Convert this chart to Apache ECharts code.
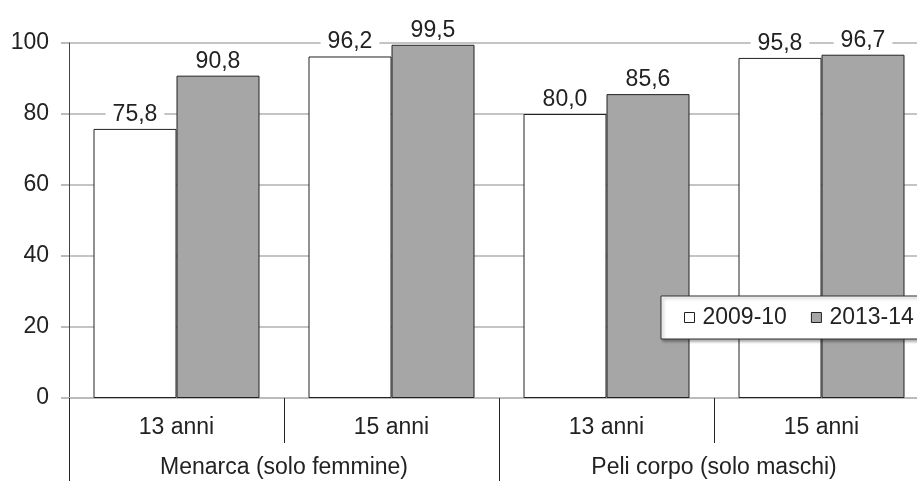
<!DOCTYPE html>
<html><head><meta charset="utf-8">
<script src="https://cdn.jsdelivr.net/npm/echarts@6/dist/echarts.min.js"></script>
<style>html,body{margin:0;padding:0;background:#fff}#c{width:917px;height:481px}</style>
</head><body><div id="c"></div>
<script>
var categories = ['13 anni','15 anni','13 anni','15 anni'];
var groups = ['Menarca (solo femmine)','Peli corpo (solo maschi)'];
var seriesNames = ['2009-10','2013-14'];
var values2009 = [75.8, 96.2, 80.0, 95.8];
var values2013 = [90.8, 99.5, 85.6, 96.7];
var yTicks = [0,20,40,60,80,100];

var chart = echarts.init(document.getElementById('c'));
var font = 'Liberation Sans, Arial, sans-serif';
var fs = 23;
function lbl(){
  return {show:true, position:'top', distance:3, color:'#222', fontSize:fs, fontFamily:font,
    backgroundColor:'#fff', padding:[3,7,0,7],
    formatter:function(p){return p.value.toFixed(1).replace('.',',');}};
}
chart.setOption({
  animation:false,
  grid:{left:69, top:43, width:860, height:355, outerBoundsMode:'none', containLabel:false},
  legend:{
    data:seriesNames, left:661, top:296, width:400, orient:'horizontal', padding:[10,14,10,23],
    backgroundColor:'#fff', borderColor:'#333', borderWidth:1,
    shadowColor:'rgba(0,0,0,0.35)', shadowBlur:3, shadowOffsetX:2, shadowOffsetY:2,
    icon:'rect', itemWidth:10, itemHeight:10, itemGap:24,
    itemStyle:{borderColor:'#222', borderWidth:1},
    textStyle:{fontSize:fs, fontFamily:font, color:'#222', padding:[0,0,0,3]}
  },
  xAxis:[{
    type:'category', data:categories, position:'bottom',
    axisLine:{show:true, lineStyle:{color:'#bbb', width:2}},
    axisTick:{show:true, length:45, interval:0, lineStyle:{color:'#222', width:1}},
    axisLabel:{margin:18, fontSize:fs, fontFamily:font, color:'#222', interval:0}
  },{
    type:'category', data:groups, position:'bottom', offset:0,
    axisLine:{show:false},
    axisTick:{show:true, length:83, interval:0, lineStyle:{color:'#222', width:1}},
    axisLabel:{margin:58, fontSize:fs, fontFamily:font, color:'#222', interval:0}
  }],
  yAxis:{
    type:'value', min:yTicks[0], max:yTicks[yTicks.length-1], interval:20,
    axisLine:{show:true, lineStyle:{color:'#444', width:1}},
    axisTick:{show:true, length:8, lineStyle:{color:'#bbb', width:2}},
    splitLine:{lineStyle:{color:'#c4c4c4', width:2}},
    axisLabel:{margin:20, fontSize:fs, fontFamily:font, color:'#222'}
  },
  series:[{
    name:seriesNames[0], type:'bar', data:values2009, barWidth:83, barGap:'0%',
    itemStyle:{color:'#fff', borderColor:'#222', borderWidth:1},
    label:lbl()
  },{
    name:seriesNames[1], type:'bar', data:values2013, barWidth:83,
    itemStyle:{color:'#a6a6a6', borderColor:'#222', borderWidth:1},
    label:lbl()
  }]
});
</script></body></html>
